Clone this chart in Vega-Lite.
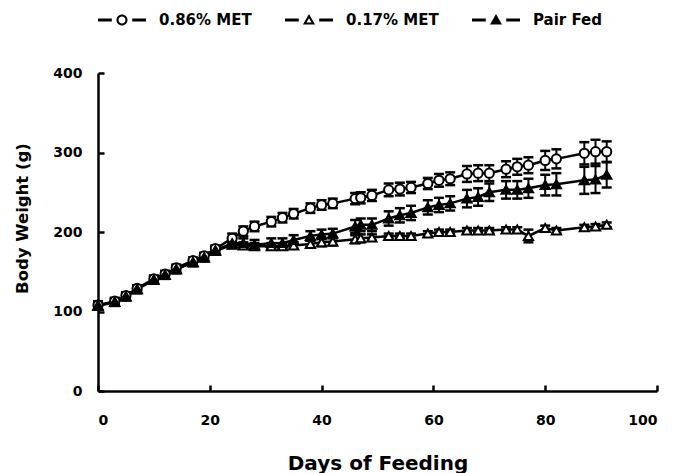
{
  "$schema": "https://vega.github.io/schema/vega-lite/v6.json",
  "width": 559,
  "height": 318,
  "autosize": {"type": "none"},
  "padding": {"left": 98, "top": 73, "right": 16, "bottom": 82},
  "background": "white",
  "config": {
    "view": {"stroke": null},
    "font": "DejaVu Sans",
    "axis": {
      "grid": false,
      "domainColor": "black",
      "domainWidth": 2.5,
      "tickColor": "black",
      "tickWidth": 2.5,
      "tickSize": -6,
      "labelFont": "DejaVu Sans",
      "labelFontWeight": "bold",
      "labelFontSize": 14,
      "labelColor": "black",
      "titleFont": "DejaVu Sans",
      "titleFontWeight": "bold",
      "titleColor": "black"
    }
  },
  "resolve": {"scale": {"shape": "independent"}},
  "data": {
    "values": [
      {"day": 0, "group": "0.86% MET", "w": 108, "se": 4},
      {"day": 3, "group": "0.86% MET", "w": 113, "se": 4},
      {"day": 5, "group": "0.86% MET", "w": 120, "se": 4},
      {"day": 7, "group": "0.86% MET", "w": 129, "se": 4},
      {"day": 10, "group": "0.86% MET", "w": 141, "se": 4},
      {"day": 12, "group": "0.86% MET", "w": 147, "se": 4},
      {"day": 14, "group": "0.86% MET", "w": 155, "se": 4},
      {"day": 17, "group": "0.86% MET", "w": 164, "se": 4},
      {"day": 19, "group": "0.86% MET", "w": 170, "se": 4},
      {"day": 21, "group": "0.86% MET", "w": 179, "se": 4},
      {"day": 24, "group": "0.86% MET", "w": 192, "se": 6},
      {"day": 26, "group": "0.86% MET", "w": 201, "se": 6},
      {"day": 28, "group": "0.86% MET", "w": 207, "se": 6},
      {"day": 31, "group": "0.86% MET", "w": 213, "se": 6},
      {"day": 33, "group": "0.86% MET", "w": 218, "se": 6},
      {"day": 35, "group": "0.86% MET", "w": 223, "se": 6},
      {"day": 38, "group": "0.86% MET", "w": 230, "se": 6},
      {"day": 40, "group": "0.86% MET", "w": 234, "se": 6},
      {"day": 42, "group": "0.86% MET", "w": 236, "se": 6},
      {"day": 46, "group": "0.86% MET", "w": 242, "se": 7},
      {"day": 47, "group": "0.86% MET", "w": 243, "se": 7},
      {"day": 49, "group": "0.86% MET", "w": 246, "se": 7},
      {"day": 52, "group": "0.86% MET", "w": 253, "se": 8},
      {"day": 54, "group": "0.86% MET", "w": 254, "se": 8},
      {"day": 56, "group": "0.86% MET", "w": 256, "se": 7},
      {"day": 59, "group": "0.86% MET", "w": 261, "se": 7},
      {"day": 61, "group": "0.86% MET", "w": 265, "se": 8},
      {"day": 63, "group": "0.86% MET", "w": 267, "se": 8},
      {"day": 66, "group": "0.86% MET", "w": 273, "se": 10},
      {"day": 68, "group": "0.86% MET", "w": 274, "se": 10},
      {"day": 70, "group": "0.86% MET", "w": 274, "se": 10},
      {"day": 73, "group": "0.86% MET", "w": 279, "se": 10},
      {"day": 75, "group": "0.86% MET", "w": 282, "se": 10},
      {"day": 77, "group": "0.86% MET", "w": 284, "se": 10},
      {"day": 80, "group": "0.86% MET", "w": 290, "se": 12},
      {"day": 82, "group": "0.86% MET", "w": 292, "se": 12},
      {"day": 87, "group": "0.86% MET", "w": 299, "se": 14},
      {"day": 89, "group": "0.86% MET", "w": 301, "se": 15},
      {"day": 91, "group": "0.86% MET", "w": 301, "se": 13},
      {"day": 0, "group": "0.17% MET", "w": 107, "se": 3},
      {"day": 3, "group": "0.17% MET", "w": 112, "se": 3},
      {"day": 5, "group": "0.17% MET", "w": 119, "se": 3},
      {"day": 7, "group": "0.17% MET", "w": 128, "se": 3},
      {"day": 10, "group": "0.17% MET", "w": 140, "se": 3},
      {"day": 12, "group": "0.17% MET", "w": 146, "se": 3},
      {"day": 14, "group": "0.17% MET", "w": 153, "se": 3},
      {"day": 17, "group": "0.17% MET", "w": 162, "se": 3},
      {"day": 19, "group": "0.17% MET", "w": 168, "se": 3},
      {"day": 21, "group": "0.17% MET", "w": 176, "se": 3},
      {"day": 24, "group": "0.17% MET", "w": 184, "se": 4},
      {"day": 26, "group": "0.17% MET", "w": 183, "se": 4},
      {"day": 28, "group": "0.17% MET", "w": 182, "se": 4},
      {"day": 31, "group": "0.17% MET", "w": 182, "se": 4},
      {"day": 33, "group": "0.17% MET", "w": 182, "se": 4},
      {"day": 35, "group": "0.17% MET", "w": 183, "se": 4},
      {"day": 38, "group": "0.17% MET", "w": 185, "se": 4},
      {"day": 40, "group": "0.17% MET", "w": 187, "se": 5},
      {"day": 42, "group": "0.17% MET", "w": 188, "se": 5},
      {"day": 46, "group": "0.17% MET", "w": 191, "se": 5},
      {"day": 47, "group": "0.17% MET", "w": 192, "se": 5},
      {"day": 49, "group": "0.17% MET", "w": 193, "se": 4},
      {"day": 52, "group": "0.17% MET", "w": 195, "se": 3},
      {"day": 54, "group": "0.17% MET", "w": 195, "se": 3},
      {"day": 56, "group": "0.17% MET", "w": 195, "se": 3},
      {"day": 59, "group": "0.17% MET", "w": 198, "se": 3},
      {"day": 61, "group": "0.17% MET", "w": 200, "se": 3},
      {"day": 63, "group": "0.17% MET", "w": 200, "se": 3},
      {"day": 66, "group": "0.17% MET", "w": 202, "se": 3},
      {"day": 68, "group": "0.17% MET", "w": 202, "se": 3},
      {"day": 70, "group": "0.17% MET", "w": 202, "se": 3},
      {"day": 73, "group": "0.17% MET", "w": 203, "se": 3},
      {"day": 75, "group": "0.17% MET", "w": 203, "se": 3},
      {"day": 77, "group": "0.17% MET", "w": 195, "se": 8},
      {"day": 80, "group": "0.17% MET", "w": 205, "se": 3},
      {"day": 82, "group": "0.17% MET", "w": 202, "se": 3},
      {"day": 87, "group": "0.17% MET", "w": 206, "se": 3},
      {"day": 89, "group": "0.17% MET", "w": 207, "se": 3},
      {"day": 91, "group": "0.17% MET", "w": 209, "se": 3},
      {"day": 0, "group": "Pair Fed", "w": 108, "se": 5},
      {"day": 3, "group": "Pair Fed", "w": 112, "se": 5},
      {"day": 5, "group": "Pair Fed", "w": 119, "se": 5},
      {"day": 7, "group": "Pair Fed", "w": 128, "se": 5},
      {"day": 10, "group": "Pair Fed", "w": 140, "se": 5},
      {"day": 12, "group": "Pair Fed", "w": 146, "se": 5},
      {"day": 14, "group": "Pair Fed", "w": 153, "se": 5},
      {"day": 17, "group": "Pair Fed", "w": 162, "se": 5},
      {"day": 19, "group": "Pair Fed", "w": 168, "se": 5},
      {"day": 21, "group": "Pair Fed", "w": 177, "se": 5},
      {"day": 24, "group": "Pair Fed", "w": 186, "se": 6},
      {"day": 26, "group": "Pair Fed", "w": 186, "se": 6},
      {"day": 28, "group": "Pair Fed", "w": 184, "se": 6},
      {"day": 31, "group": "Pair Fed", "w": 186, "se": 6},
      {"day": 33, "group": "Pair Fed", "w": 186, "se": 6},
      {"day": 35, "group": "Pair Fed", "w": 190, "se": 6},
      {"day": 38, "group": "Pair Fed", "w": 195, "se": 6},
      {"day": 40, "group": "Pair Fed", "w": 197, "se": 6},
      {"day": 42, "group": "Pair Fed", "w": 198, "se": 6},
      {"day": 46, "group": "Pair Fed", "w": 207, "se": 8},
      {"day": 47, "group": "Pair Fed", "w": 209, "se": 8},
      {"day": 49, "group": "Pair Fed", "w": 209, "se": 8},
      {"day": 52, "group": "Pair Fed", "w": 217, "se": 9},
      {"day": 54, "group": "Pair Fed", "w": 221, "se": 9},
      {"day": 56, "group": "Pair Fed", "w": 224, "se": 9},
      {"day": 59, "group": "Pair Fed", "w": 231, "se": 9},
      {"day": 61, "group": "Pair Fed", "w": 234, "se": 9},
      {"day": 63, "group": "Pair Fed", "w": 236, "se": 9},
      {"day": 66, "group": "Pair Fed", "w": 242, "se": 11},
      {"day": 68, "group": "Pair Fed", "w": 244, "se": 11},
      {"day": 70, "group": "Pair Fed", "w": 250, "se": 11},
      {"day": 73, "group": "Pair Fed", "w": 253, "se": 11},
      {"day": 75, "group": "Pair Fed", "w": 253, "se": 11},
      {"day": 77, "group": "Pair Fed", "w": 255, "se": 12},
      {"day": 80, "group": "Pair Fed", "w": 259, "se": 13},
      {"day": 82, "group": "Pair Fed", "w": 260, "se": 14},
      {"day": 87, "group": "Pair Fed", "w": 265, "se": 17},
      {"day": 89, "group": "Pair Fed", "w": 266, "se": 17},
      {"day": 91, "group": "Pair Fed", "w": 272, "se": 16}
    ]
  },
  "encoding": {
    "x": {
      "field": "day",
      "type": "quantitative",
      "scale": {"domain": [0, 100], "nice": false, "zero": false},
      "axis": {"values": [0, 20, 40, 60, 80, 100], "title": "Days of Feeding", "titleFontSize": 20, "labelPadding": 28, "titlePadding": 26}
    },
    "y": {
      "field": "w",
      "type": "quantitative",
      "scale": {"domain": [0, 400], "nice": false},
      "axis": {"values": [0, 100, 200, 300, 400], "title": "Body Weight (g)", "titleFontSize": 16.5, "labelPadding": 22, "titleX": -68, "titleY": 145}
    }
  },
  "layer": [
    {
      "mark": {"type": "line", "stroke": "black", "strokeWidth": 2.5},
      "encoding": {"detail": {"field": "group", "type": "nominal"}}
    },
    {
      "mark": {"type": "errorbar", "color": "black", "opacity": 1, "rule": {"color": "black", "strokeWidth": 2, "opacity": 1}, "ticks": {"size": 10, "thickness": 2.5, "color": "black", "opacity": 1}},
      "encoding": {"yError": {"field": "se"}, "detail": {"field": "group", "type": "nominal"}}
    },
    {
      "mark": {"type": "point", "filled": true, "stroke": "black", "strokeWidth": 2, "size": 85, "opacity": 1},
      "encoding": {
        "shape": {
          "field": "group",
          "type": "nominal",
          "scale": {"domain": ["0.86% MET", "0.17% MET", "Pair Fed"], "range": ["circle", "triangle-up", "triangle-up"]},
          "legend": null
        },
        "fill": {
          "field": "group",
          "type": "nominal",
          "scale": {"domain": ["0.86% MET", "0.17% MET", "Pair Fed"], "range": ["white", "white", "black"]},
          "legend": null
        }
      }
    },
    {
      "mark": {"type": "point", "filled": true, "color": "black", "opacity": 0, "size": 85},
      "encoding": {
        "shape": {
          "field": "group",
          "type": "nominal",
          "scale": {
            "domain": ["0.86% MET", "0.17% MET", "Pair Fed"],
            "range": [
              "M-2,-0.125H-0.85V0.125H-2Z M0.85,-0.125H2V0.125H0.85Z M0.46,0A0.46,0.46 0 1,1 -0.46,0A0.46,0.46 0 1,1 0.46,0Z M0.29,0A0.29,0.29 0 1,0 -0.29,0A0.29,0.29 0 1,0 0.29,0Z",
              "M-2,-0.125H-0.85V0.125H-2Z M0.85,-0.125H2V0.125H0.85Z M0,-0.5L0.5,0.38L-0.5,0.38Z M0,-0.156L-0.208,0.21L0.208,0.21Z",
              "M-2,-0.125H-0.85V0.125H-2Z M0.85,-0.125H2V0.125H0.85Z M0,-0.5L0.5,0.38L-0.5,0.38Z"
            ]
          },
          "legend": {
            "title": null,
            "orient": "none",
            "legendX": 12,
            "legendY": -65,
            "direction": "horizontal",
            "symbolSize": 576,
            "symbolStrokeWidth": 0,
            "symbolFillColor": "black",
            "symbolOpacity": 1,
            "labelFont": "DejaVu Sans",
            "labelFontWeight": "bold",
            "labelFontSize": 15,
            "labelColor": "black",
            "labelOffset": 25,
            "columnPadding": 33
          }
        }
      }
    }
  ]
}
